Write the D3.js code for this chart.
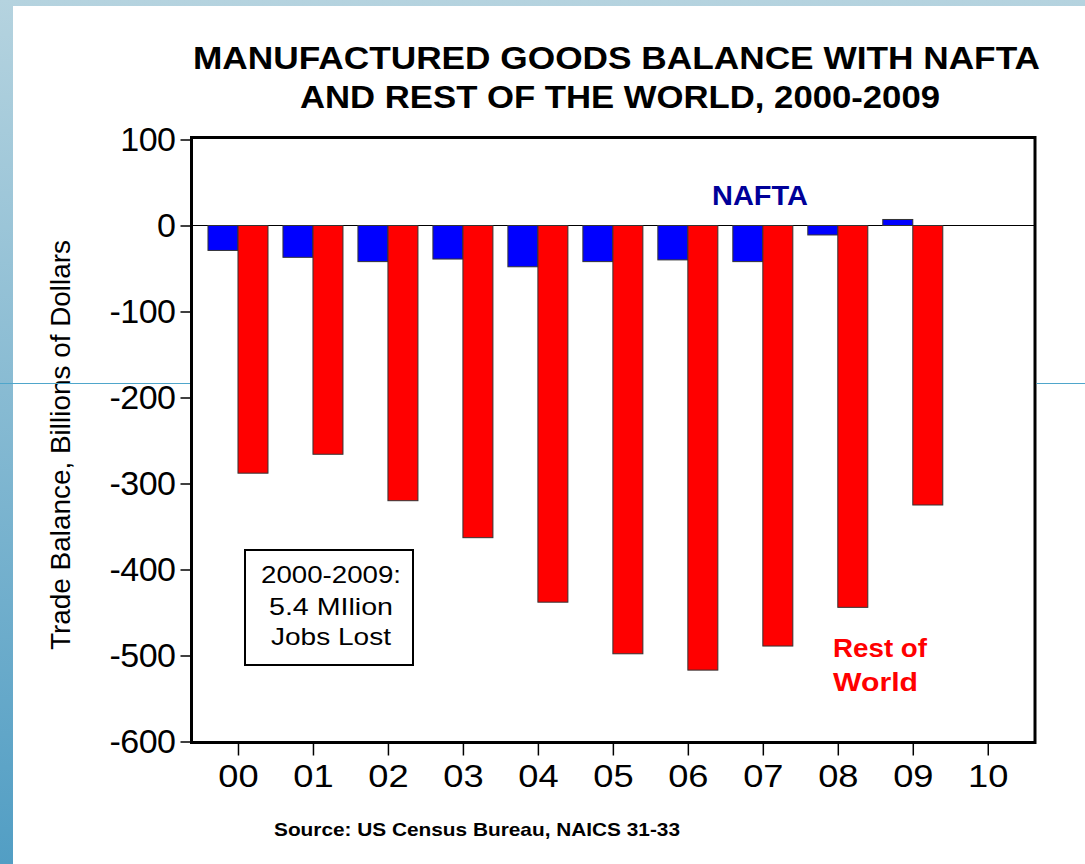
<!DOCTYPE html>
<html>
<head>
<meta charset="utf-8">
<script src="https://cdn.jsdelivr.net/npm/d3@7"></script>
<style>
  body { margin: 0; background: #fff; }
  svg { display: block; font-family: "Liberation Sans", Arial, sans-serif; }
</style>
</head>
<body>
<svg id="chart" width="1085" height="864"></svg>
<script>
// data (billions of dollars)
const years = ["00", "01", "02", "03", "04", "05", "06", "07", "08", "09"];
const naftaValues = [-29, -37, -42, -39, -48, -42, -40, -42, -11, 7];
const restValues = [-288, -266, -320, -363, -438, -498, -517, -489, -444, -325];
const xTickLabels = ["00", "01", "02", "03", "04", "05", "06", "07", "08", "09", "10"];
const yTicks = [100, 0, -100, -200, -300, -400, -500, -600];

const svg = d3.select("#chart");
const width = 1085;
const height = 864;

// background frame with blue gradient
const defs = svg.append("defs");
const grad = defs.append("linearGradient")
  .attr("id", "frameGrad")
  .attr("x1", 0).attr("y1", 0).attr("x2", 0).attr("y2", 1);
grad.append("stop").attr("offset", "0%").attr("stop-color", "#b5d3df");
grad.append("stop").attr("offset", "100%").attr("stop-color", "#529ec4");
svg.append("rect").attr("width", width).attr("height", height).attr("fill", "url(#frameGrad)");
svg.append("rect").attr("x", 13).attr("y", 6).attr("width", width - 13).attr("height", height - 6).attr("fill", "#fff");

// plot box
const plot = { left: 191.5, right: 1035, top: 137.5, bottom: 742.5 };

const xScale = d3.scaleLinear()
  .domain([-0.62, 10.63])
  .range([plot.left, plot.right]);

const yScale = d3.scaleLinear()
  .domain([-600, 100])
  .range([741.5, 139.5]);

const barWidth = 30;

//Zero line
svg.append("line")
  .attr("x1", plot.left).attr("x2", plot.right)
  .attr("y1", yScale(0)).attr("y2", yScale(0))
  .attr("stroke", "#000").attr("stroke-width", 1.2);

// NAFTA bars (left of the tick)
svg.append("g")
  .selectAll("rect")
  .data(naftaValues)
  .enter()
  .append("rect")
  .attr("x", (d, i) => xScale(i) - barWidth)
  .attr("y", (d) => yScale(Math.max(0, d)))
  .attr("width", barWidth)
  .attr("height", (d) => Math.abs(yScale(d) - yScale(0)))
  .attr("fill", "#0000ff")
  .attr("stroke", "#333")
  .attr("stroke-width", 1);

// Rest of world bars (right of the tick)
svg.append("g")
  .selectAll("rect")
  .data(restValues)
  .enter()
  .append("rect")
  .attr("x", (d, i) => xScale(i))
  .attr("y", (d) => yScale(Math.max(0, d)))
  .attr("width", barWidth)
  .attr("height", (d) => Math.abs(yScale(d) - yScale(0)))
  .attr("fill", "#ff0000")
  .attr("stroke", "#333")
  .attr("stroke-width", 1);

//Axes
const yAxis = d3.axisLeft(yScale).tickValues(yTicks).tickSize(11).tickPadding(5).tickFormat((d) => String(d));
const yG = svg.append("g")
  .attr("transform", `translate(${plot.left},0)`)
  .call(yAxis);
yG.select(".domain").remove();
yG.selectAll(".tick line").attr("stroke-width", 1.5);
yG.selectAll("text")
  .attr("font-size", 34)
  .attr("letter-spacing", -0.5)
  .attr("fill", "#000")
  .attr("font-family", "Liberation Sans, Arial, sans-serif");

const xAxis = d3.axisBottom(xScale)
  .tickValues(d3.range(xTickLabels.length))
  .tickFormat((d) => xTickLabels[d])
  .tickSize(13)
  .tickPadding(9);
const xG = svg.append("g")
  .attr("transform", `translate(0,${plot.bottom})`)
  .call(xAxis);
xG.select(".domain").remove();
xG.selectAll(".tick line").attr("stroke-width", 1.5);
xG.selectAll("text")
  .attr("font-size", 31)
  .attr("fill", "#000")
  .attr("transform", "scale(1.17,1)")
  .attr("font-family", "Liberation Sans, Arial, sans-serif");

// frame
svg.append("rect")
  .attr("x", plot.left).attr("y", plot.top)
  .attr("width", plot.right - plot.left)
  .attr("height", plot.bottom - plot.top)
  .attr("fill", "none")
  .attr("stroke", "#000")
  .attr("stroke-width", 3);

// title
const title = svg.append("text")
  .attr("font-weight", "bold")
  .attr("font-size", 31)
  .attr("fill", "#000");
title.append("tspan").attr("x", 193).attr("y", 69)
  .attr("textLength", 847).attr("lengthAdjust", "spacingAndGlyphs")
  .text("MANUFACTURED GOODS BALANCE WITH NAFTA");
title.append("tspan").attr("x", 300).attr("y", 108)
  .attr("textLength", 640).attr("lengthAdjust", "spacingAndGlyphs")
  .text("AND REST OF THE WORLD, 2000-2009");

// y axis title
svg.append("text")
  .attr("transform", "translate(70,650) rotate(-90)")
  .attr("font-size", 27)
  .attr("textLength", 410)
  .attr("lengthAdjust", "spacingAndGlyphs")
  .attr("fill", "#000")
  .text("Trade Balance, Billions of Dollars");

// series labels
svg.append("text")
  .attr("x", 712).attr("y", 205)
  .attr("font-weight", "bold")
  .attr("font-size", 27)
  .attr("textLength", 96)
  .attr("lengthAdjust", "spacingAndGlyphs")
  .attr("fill", "#000099")
  .text("NAFTA");

const rest = svg.append("text")
  .attr("font-weight", "bold")
  .attr("font-size", 26)
  .attr("fill", "#ff0000");
rest.append("tspan").attr("x", 833).attr("y", 657)
  .attr("textLength", 94).attr("lengthAdjust", "spacingAndGlyphs").text("Rest of");
rest.append("tspan").attr("x", 833).attr("y", 691)
  .attr("textLength", 85).attr("lengthAdjust", "spacingAndGlyphs").text("World");

// annotation box
svg.append("rect")
  .attr("x", 245).attr("y", 550)
  .attr("width", 168).attr("height", 115)
  .attr("fill", "#fff")
  .attr("stroke", "#000")
  .attr("stroke-width", 2);
const note = svg.append("text")
  .attr("font-size", 24)
  .attr("fill", "#000");
note.append("tspan").attr("x", 261).attr("y", 583)
  .attr("textLength", 140).attr("lengthAdjust", "spacingAndGlyphs").text("2000-2009:");
note.append("tspan").attr("x", 269).attr("y", 615)
  .attr("textLength", 124).attr("lengthAdjust", "spacingAndGlyphs").text("5.4 MIlion");
note.append("tspan").attr("x", 271).attr("y", 645)
  .attr("textLength", 120).attr("lengthAdjust", "spacingAndGlyphs").text("Jobs Lost");

// source
svg.append("text")
  .attr("x", 274).attr("y", 836)
  .attr("font-weight", "bold")
  .attr("font-size", 19)
  .attr("textLength", 406)
  .attr("lengthAdjust", "spacingAndGlyphs")
  .attr("fill", "#000")
  .text("Source: US Census Bureau,  NAICS 31-33");

// thin blue slide line, visible outside the plot box only
[[0, plot.left - 1.5], [plot.right + 1.5, width]].forEach(([x1, x2]) => {
  svg.append("line")
    .attr("x1", x1).attr("x2", x2)
    .attr("y1", 383.5).attr("y2", 383.5)
    .attr("stroke", "#4fa6cb").attr("stroke-width", 1);
});
</script>
</body>
</html>
